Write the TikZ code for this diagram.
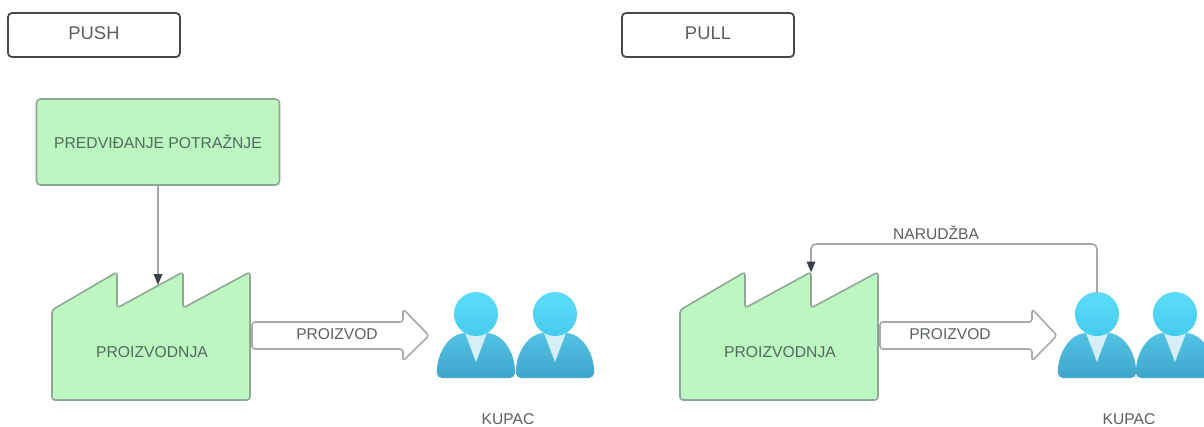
\documentclass[tikz,border=0pt]{standalone}
\usepackage{fontspec}
\setmainfont{Liberation Sans}
\usetikzlibrary{arrows.meta}
\definecolor{fillgreen}{HTML}{BEF6C1}
\definecolor{edgegreen}{HTML}{8FA896}
\definecolor{txtgreen}{HTML}{4F6B5A}
\definecolor{txtgray}{HTML}{5A5F63}
\definecolor{edgegray}{HTML}{A6A9AB}
\definecolor{darkedge}{HTML}{45484C}
\definecolor{tipdark}{HTML}{3A3F48}
\tikzset{
  x=1pt,y=-1pt,
  titlebox/.style={draw=darkedge,line width=1.8pt,rounded corners=4pt,fill=white,minimum width=172pt,minimum height=44pt,inner sep=0pt,text=txtgray,font=\fontsize{18.4}{20}\selectfont},
  greenbox/.style={draw=edgegreen,line width=1.6pt,rounded corners=4pt,fill=fillgreen,minimum width=243pt,minimum height=86pt,inner sep=0pt,text=txtgreen,font=\fontsize{15.7}{18}\selectfont},
  factorystyle/.style={draw=edgegreen,line width=1.6pt,rounded corners=3pt,fill=fillgreen},
  blockarrow/.style={draw=edgegray,line width=1.6pt,rounded corners=3pt,fill=white,line join=round},
  label/.style={inner sep=0pt,text=txtgray,font=\fontsize{15.6}{18}\selectfont},
  greenlabel/.style={inner sep=0pt,text=txtgreen,font=\fontsize{15.7}{18}\selectfont},
  connector/.style={draw=edgegray,line width=1.7pt,rounded corners=5pt,-{Triangle[length=11pt,width=8.5pt,fill=tipdark,color=tipdark]}},
  pics/factory/.style={code={
    \path[factorystyle] (0,38) -- (65,0) -- (65,36) -- (131,0) -- (131,36) -- (198,0) -- (198,128) -- (0,128) -- cycle;
  }},
  pics/person/.style={code={
    \path[rounded corners=5pt,top color=bodytop,bottom color=bodybot]
      (-39,64) .. controls (-39.5,40) and (-28,21) .. (-8,18.5) -- (8,18.5) .. controls (28,21) and (39.5,40) .. (39,64) -- cycle;
    \path[fill=collar] (-11,19) -- (11,19) -- (0,48) -- cycle;
    \path[top color=headtop,bottom color=headbot] (0,0) circle (22pt);
  }},
}
\definecolor{bodytop}{HTML}{52C3E4}
\definecolor{bodybot}{HTML}{40A6CB}
\definecolor{headtop}{HTML}{5CDDF9}
\definecolor{headbot}{HTML}{45CBEF}
\definecolor{collar}{HTML}{D6EFF7}
\begin{document}
\begin{tikzpicture}
\useasboundingbox (0,0) rectangle (1204,426);
\begin{scope}
\clip (0,0) rectangle (1204,426);
\node[titlebox] (pushtitle) at (94,35) {};
\node[inner sep=0pt,text=txtgray,font=\fontsize{18.4}{20}\selectfont] (pushtext) at (94,33) {PUSH};
\node[titlebox] (pulltitle) at (708,35) {};
\node[inner sep=0pt,text=txtgray,font=\fontsize{18.4}{20}\selectfont] (pulltext) at (708,33) {PULL};
\node[greenbox] (forecast) at (158,142) {PREDVIĐANJE POTRAŽNJE};
% left factory
\pic at (52,272) {factory};
\node[greenlabel] (prodleft) at (152,352) {PROIZVODNJA};
\coordinate (roofleft) at (158,285);
\draw[connector,rounded corners=0pt] (forecast.south) -- (roofleft);
\path[blockarrow] (252,322) -- (403,322) -- (403,309) -- (429,335.5) -- (403,361) -- (403,349) -- (252,349) -- cycle;
\node[label] (proizvodleft) at (337,334) {PROIZVOD};
\pic at (476,314) {person};
\pic at (555,314) {person};
\node[label] (kupacleft) at (508,419) {KUPAC};
% right factory
\pic at (680,272) {factory};
\node[greenlabel] (prodright) at (780,352) {PROIZVODNJA};
\path[blockarrow] (880,322) -- (1032,322) -- (1032,309) -- (1057,335.5) -- (1032,361) -- (1032,349) -- (880,349) -- cycle;
\node[label] (proizvodright) at (950,334) {PROIZVOD};
\pic at (1097,314) {person};
\pic at (1175,314) {person};
\node[label] (kupacright) at (1129,419) {KUPAC};
\coordinate (headright) at (1097,293);
\coordinate (roofright) at (811,272.5);
\draw[connector] (headright) -- (1097,244) -- (811,244) -- (roofright);
\node[label] (orderlabel) at (936,233) {NARUDŽBA};
\end{scope}
\end{tikzpicture}
\end{document}
